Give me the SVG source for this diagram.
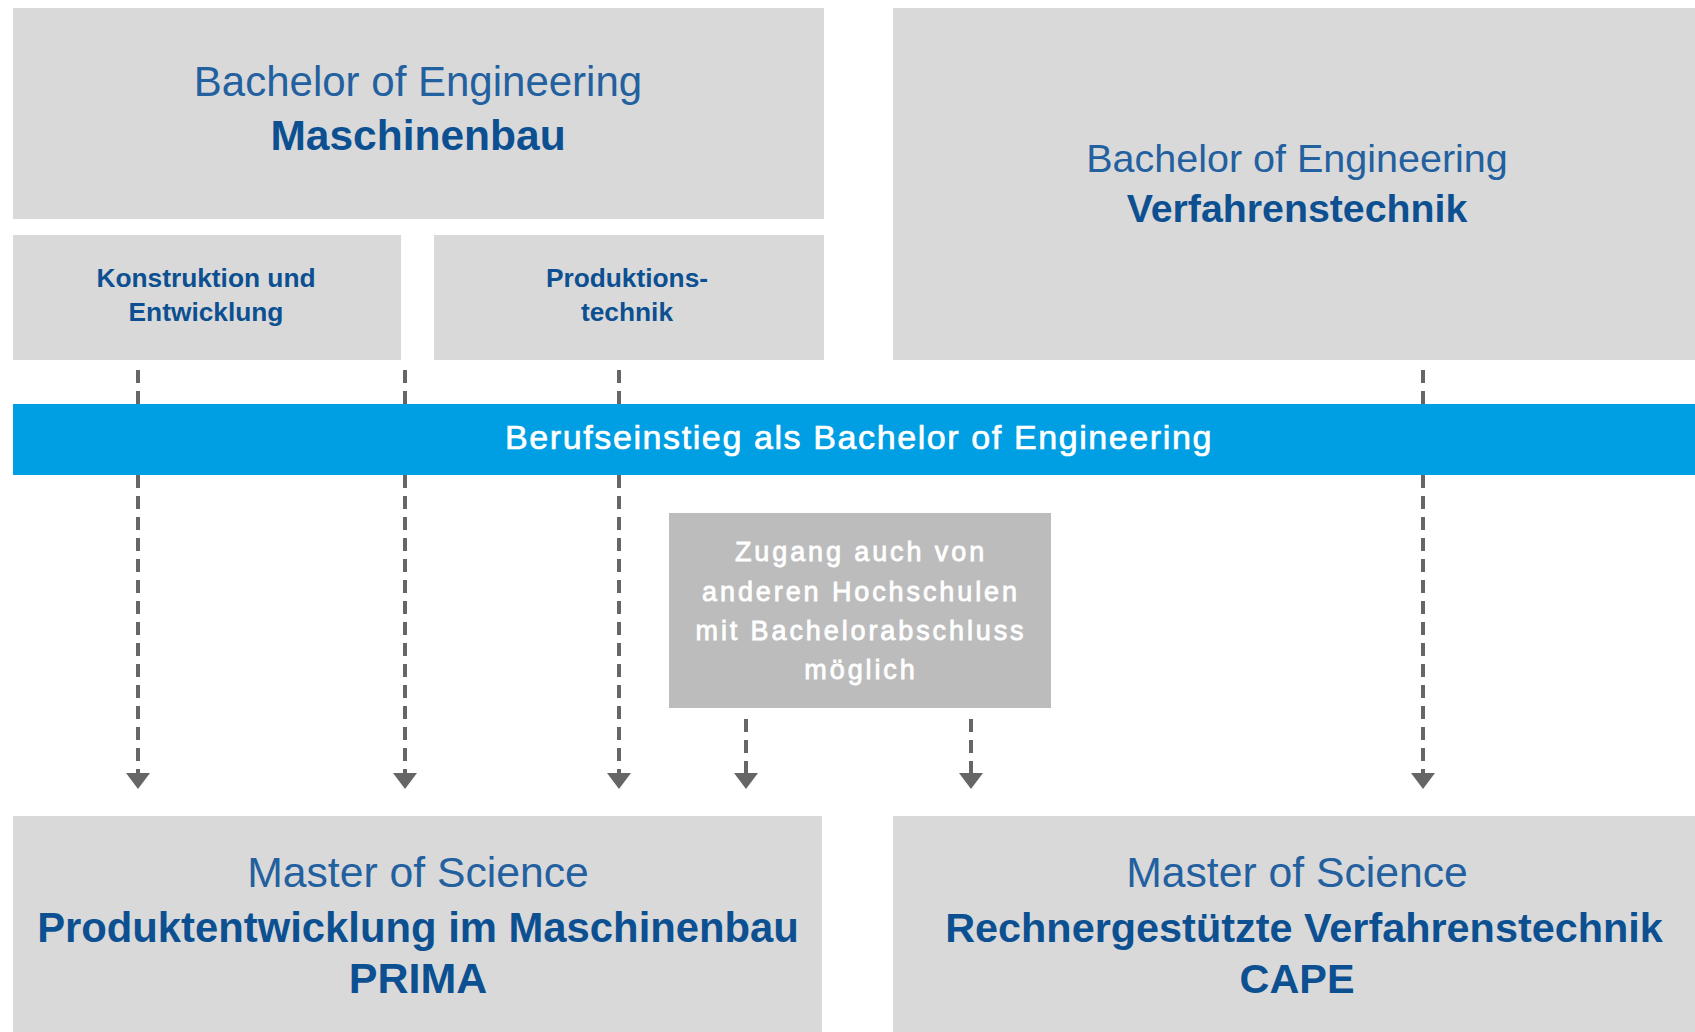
<svg xmlns="http://www.w3.org/2000/svg" width="1695" height="1032" viewBox="0 0 1695 1032">
<style>
.box{fill:#d9d9d9}
.gbox{fill:#bcbcbc}
.bar{fill:#009fe3}
.light{font-family:"Liberation Sans",Arial,sans-serif;font-size:42px;fill:#23609f;text-anchor:middle}
.bold{font-family:"Liberation Sans",Arial,sans-serif;font-size:40px;font-weight:bold;fill:#0c5092;text-anchor:middle}
.sub{font-family:"Liberation Sans",Arial,sans-serif;font-size:26.3px;font-weight:bold;fill:#0c5092;text-anchor:middle}
.bartxt{font-family:"Liberation Sans",Arial,sans-serif;font-size:34px;fill:#ffffff;stroke:#ffffff;stroke-width:0.7px;letter-spacing:1.6px;text-anchor:middle}
.gtxt{font-family:"Liberation Sans",Arial,sans-serif;font-size:27px;fill:#ffffff;stroke:#ffffff;stroke-width:0.8px;letter-spacing:2.9px;text-anchor:middle}
.con{stroke:#666666;stroke-width:4;stroke-dasharray:13 8;fill:none;marker-end:url(#ah)}
</style>
<defs>
<marker id="ah" markerUnits="userSpaceOnUse" viewBox="0 -12 16 24" markerWidth="16" markerHeight="24" refX="0" refY="0" orient="auto">
<path d="M0,-12 L16,0 L0,12 z" fill="#666666"/>
</marker>
</defs>
<rect width="1695" height="1032" fill="#ffffff"/>
<g id="connectors">
<line class="con" x1="138" y1="370" x2="138" y2="773"/>
<line class="con" x1="405" y1="370" x2="405" y2="773"/>
<line class="con" x1="619" y1="370" x2="619" y2="773"/>
<line class="con" x1="1423" y1="370" x2="1423" y2="773"/>
<line class="con" x1="746" y1="719" x2="746" y2="773"/>
<line class="con" x1="971" y1="719" x2="971" y2="773"/>
</g>
<g id="bachelor-maschinenbau">
<rect class="box" x="13" y="8" width="811" height="211"/>
<text class="light" x="418" y="96">Bachelor of Engineering</text>
<text class="bold" x="418" y="150" style="font-size:42.5px">Maschinenbau</text>
</g>
<g id="konstruktion">
<rect class="box" x="13" y="235" width="388" height="125"/>
<text class="sub" x="206" y="287">Konstruktion und</text>
<text class="sub" x="206" y="321">Entwicklung</text>
</g>
<g id="produktionstechnik">
<rect class="box" x="434" y="235" width="390" height="125"/>
<text class="sub" x="627" y="287">Produktions-</text>
<text class="sub" x="627" y="321">technik</text>
</g>
<g id="bachelor-verfahrenstechnik">
<rect class="box" x="893" y="8" width="802" height="352"/>
<text class="light" x="1297" y="172" style="font-size:39.5px">Bachelor of Engineering</text>
<text class="bold" x="1297" y="222" style="font-size:39.3px">Verfahrenstechnik</text>
</g>
<g id="berufseinstieg">
<rect class="bar" x="13" y="404" width="1682" height="71"/>
<text class="bartxt" x="859" y="449">Berufseinstieg als Bachelor of Engineering</text>
</g>
<g id="zugang">
<rect class="gbox" x="669" y="513" width="382" height="195"/>
<text class="gtxt" x="861" y="561">Zugang auch von</text>
<text class="gtxt" x="861" y="601">anderen Hochschulen</text>
<text class="gtxt" x="861" y="640">mit Bachelorabschluss</text>
<text class="gtxt" x="861" y="679">möglich</text>
</g>
<g id="master-prima">
<rect class="box" x="13" y="816" width="809" height="216"/>
<text class="light" x="418" y="887" style="font-size:42.7px">Master of Science</text>
<text class="bold" x="418" y="942" style="font-size:41.8px">Produktentwicklung im Maschinenbau</text>
<text class="bold" x="418" y="993" style="font-size:43px">PRIMA</text>
</g>
<g id="master-cape">
<rect class="box" x="893" y="816" width="802" height="216"/>
<text class="light" x="1297" y="887" style="font-size:42.7px">Master of Science</text>
<text class="bold" x="1304" y="942" style="font-size:41.4px">Rechnergestützte Verfahrenstechnik</text>
<text class="bold" x="1297" y="993" style="font-size:41.4px">CAPE</text>
</g>
</svg>
